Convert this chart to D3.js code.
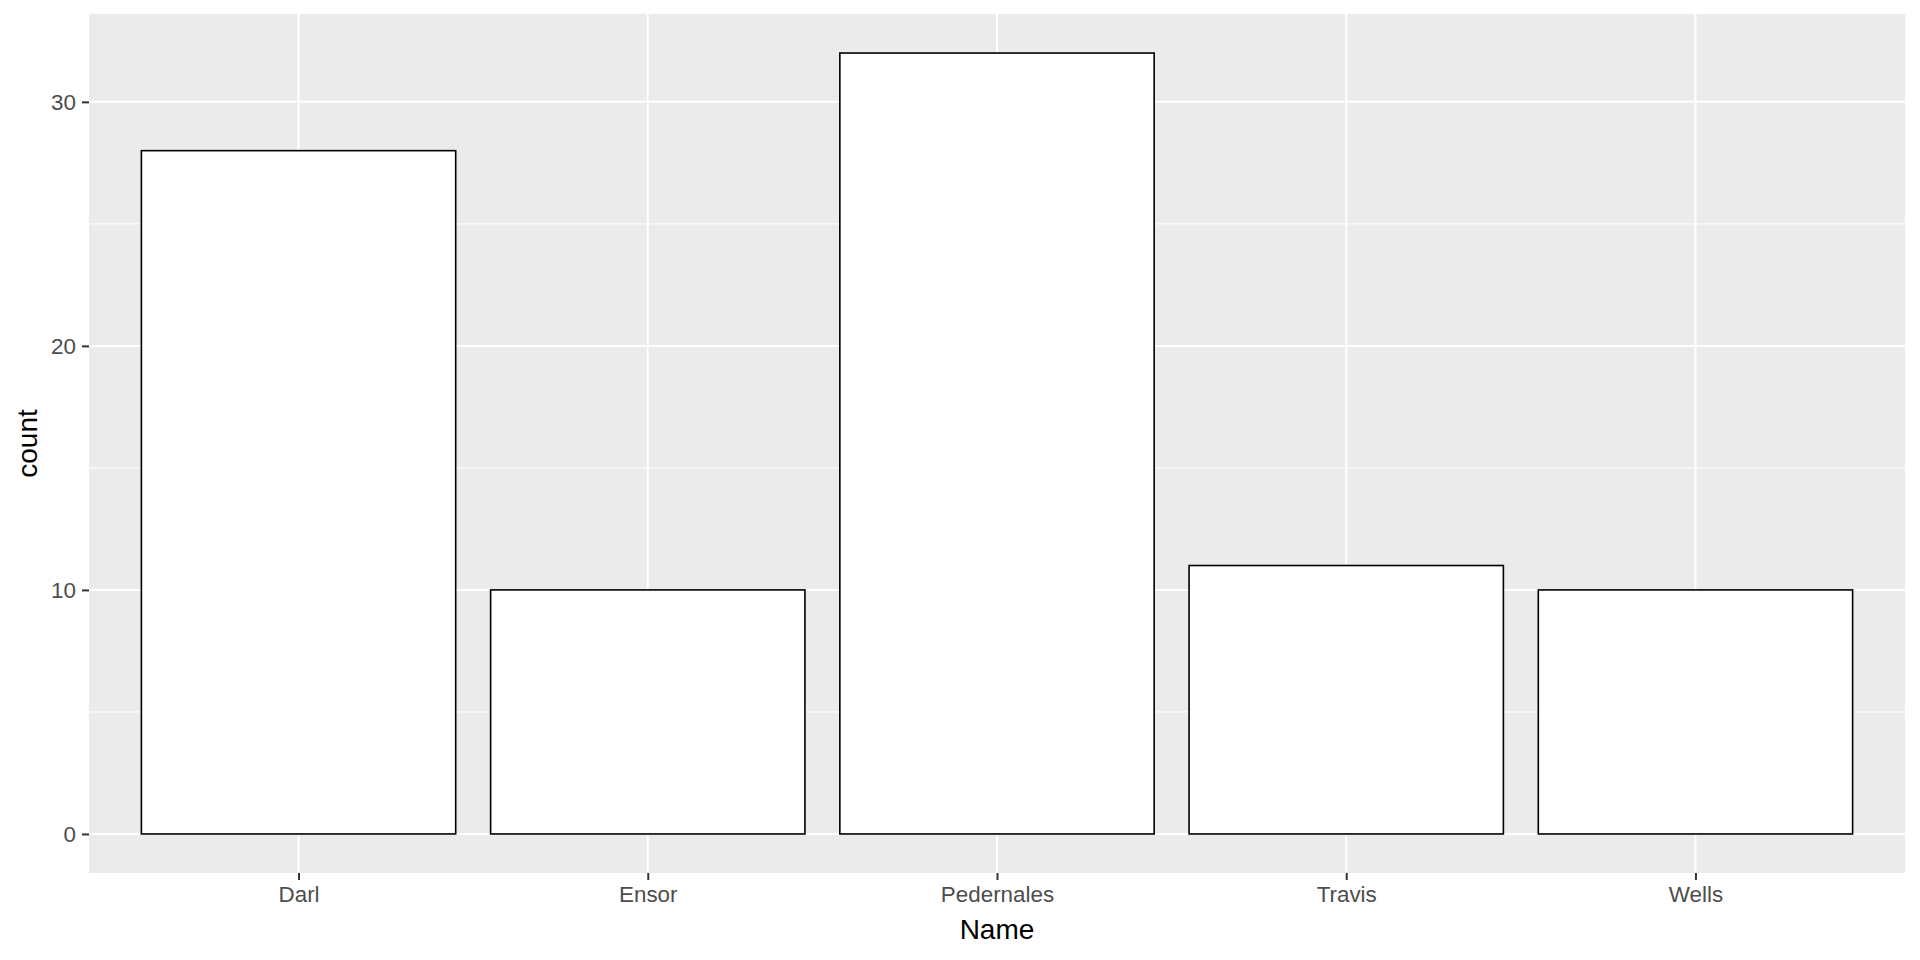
<!DOCTYPE html>
<html>
<head>
<meta charset="utf-8">
<script src="https://cdn.jsdelivr.net/npm/d3@7"></script>
<style>
  body { margin: 0; background: #fff; }
  svg { display: block; font-family: "Liberation Sans", Arial, sans-serif; }
</style>
</head>
<body>
<svg id="plot"></svg>
<script>
const names = ["Darl", "Ensor", "Pedernales", "Travis", "Wells"];
const counts = [28, 10, 32, 11, 10];
const yTicks = [0, 10, 20, 30];
const yMinor = [5, 15, 25];

const w = 1920, h = 960;
const panel = {left: 89, right: 1905, top: 14, bottom: 873};

const svg = d3.select("#plot").attr("width", w).attr("height", h);

// ggplot style expansion: 0.6 units on discrete, 5% on continuous
const xScale = d3.scaleLinear()
  .domain([0.4, names.length + 0.6])
  .range([panel.left, panel.right]);
const yMax = d3.max(counts);
const yScale = d3.scaleLinear()
  .domain([-yMax * 0.05, yMax * 1.05])
  .range([panel.bottom, panel.top]);

svg.append("rect")
  .attr("x", panel.left).attr("y", panel.top)
  .attr("width", panel.right - panel.left)
  .attr("height", panel.bottom - panel.top)
  .attr("fill", "#EBEBEB");

// grid
svg.append("g").selectAll("line")
  .data(yMinor).enter().append("line")
  .attr("x1", panel.left).attr("x2", panel.right)
  .attr("y1", d => yScale(d)).attr("y2", d => yScale(d))
  .attr("stroke", "#fff").attr("stroke-width", 1);
svg.append("g").selectAll("line")
  .data(yTicks).enter().append("line")
  .attr("x1", panel.left).attr("x2", panel.right)
  .attr("y1", d => yScale(d)).attr("y2", d => yScale(d))
  .attr("stroke", "#fff").attr("stroke-width", 2);
svg.append("g").selectAll("line")
  .data(names).enter().append("line")
  .attr("x1", (d, i) => xScale(i + 1)).attr("x2", (d, i) => xScale(i + 1))
  .attr("y1", panel.top).attr("y2", panel.bottom)
  .attr("stroke", "#fff").attr("stroke-width", 2);

// bars
svg.append("g").selectAll("rect")
  .data(counts).enter().append("rect")
  .attr("x", (d, i) => xScale(i + 1 - 0.45))
  .attr("width", xScale(0.9) - xScale(0))
  .attr("y", d => yScale(d))
  .attr("height", d => yScale(0) - yScale(d))
  .attr("fill", "#fff")
  .attr("stroke", "#000")
  .attr("stroke-width", 1.6);

// axes
const xAxis = d3.axisBottom(xScale)
  .tickValues(d3.range(1, names.length + 1))
  .tickFormat(d => names[d - 1])
  .tickSize(7).tickPadding(6);
const gx = svg.append("g")
  .attr("transform", "translate(0," + panel.bottom + ")")
  .call(xAxis);

const yAxis = d3.axisLeft(yScale)
  .tickValues(yTicks)
  .tickSize(7).tickPadding(6);
const gy = svg.append("g")
  .attr("transform", "translate(" + panel.left + ",0)")
  .call(yAxis);

[gx, gy].forEach(g => {
  g.select(".domain").remove();
  g.selectAll(".tick line").attr("stroke", "#333").attr("stroke-width", 2);
  g.selectAll(".tick text")
    .attr("fill", "#4D4D4D")
    .style("font-size", "22.4px")
    .style("font-family", "'Liberation Sans', Arial, sans-serif");
});

svg.append("text")
  .attr("x", (panel.left + panel.right) / 2)
  .attr("y", 939)
  .attr("text-anchor", "middle")
  .style("font-size", "28px")
  .text("Name");

svg.append("text")
  .attr("transform", "translate(37," + ((panel.top + panel.bottom) / 2) + ") rotate(-90)")
  .attr("text-anchor", "middle")
  .style("font-size", "28px")
  .text("count");
</script>
</body>
</html>
